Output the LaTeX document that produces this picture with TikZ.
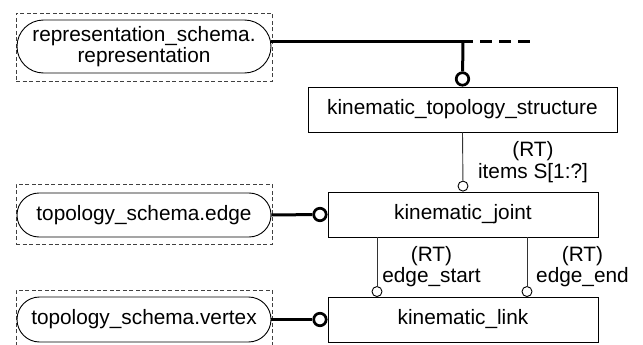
\documentclass[tikz,border=0pt]{standalone}
\usepackage{fontspec}
\setmainfont{Liberation Sans}
\usetikzlibrary{shapes.misc}
\begin{document}
\begin{tikzpicture}[x=1pt,y=-1pt,
  font=\fontsize{20.8}{21.5}\selectfont,
  entity/.style={draw, line width=0.9pt, minimum height=45, inner sep=0},
  extref/.style={draw, rounded rectangle, line width=0.9pt, minimum width=254, minimum height=45, inner sep=0, align=center},
  refframe/.style={draw=black!75, dash pattern=on 4pt off 2.5pt, line width=0.8pt, minimum width=256, inner sep=0},
  thicklink/.style={line width=3pt},
  thinlink/.style={line width=0.9pt, black!80},
  oring/.style={circle, draw, line width=2.7pt, minimum size=12.5, inner sep=0, fill=white},
  sring/.style={circle, draw, line width=0.9pt, minimum size=10, inner sep=0, fill=white},
  rolelabel/.style={align=center, inner sep=0},
]
\useasboundingbox (0,0) rectangle (643,345);

% dashed frames of the external references
\node[refframe, minimum height=68] (repframe) at (144,47) {};
\node[refframe, minimum height=60] (edgeframe) at (144,214) {};
\node[refframe, minimum height=60] (vertexframe) at (144,320) {};

% external references
\node[extref, minimum height=53] (rep) at (144,46.5) {representation\_schema.\\representation};
\node[extref, minimum height=44] (edge) at (144,215) {topology\_schema.edge};
\node[extref] (vertex) at (144,319.5) {topology\_schema.vertex};

% entities
\node[entity, minimum width=309] (kts) at (462.5,109.5) {kinematic\_topology\_structure};
\node[entity, minimum width=270] (joint) at (463,214.5) {kinematic\_joint};
\node[entity, minimum width=270] (link) at (463,319.5) {kinematic\_link};

% subtype line from representation
\coordinate (jn) at (463,42);
\coordinate (solidend) at (473,42);
\coordinate (dashend) at (531,42);
\node[oring, anchor=south] (r1) at (kts.north) {};
\draw[thicklink] (rep.east |- jn) -- (solidend);
\draw[thicklink, dash pattern=on 12pt off 7pt] ([xshift=7pt]solidend) -- (dashend);
\draw[thicklink] (jn) -- (r1);

% items
\node[sring, anchor=south] (r2) at (joint.north) {};
\draw[thinlink] (kts.south) -- (r2);
\node[rolelabel] (itemslbl) at (533,162) {(RT)\\items S[1:?]};

% edge reference
\node[oring, anchor=east] (r3) at (joint.west) {};
\draw[thicklink] (edge.east) -- (r3);

% edge_start / edge_end
\coordinate (js) at (377,237);
\coordinate (je) at (527,237);
\node[sring, anchor=south] (r4) at (377,297) {};
\node[sring, anchor=south] (r5) at (527,297) {};
\draw[thinlink] (js) -- (r4);
\draw[thinlink] (je) -- (r5);
\node[rolelabel] (startlbl) at (431.5,266.5) {(RT)\\edge\_start};
\node[rolelabel] (endlbl) at (582.5,266.5) {(RT)\\edge\_end};

% vertex reference
\node[oring, anchor=east] (r6) at (link.west) {};
\draw[thicklink] (vertex.east) -- (r6);
\end{tikzpicture}
\end{document}
